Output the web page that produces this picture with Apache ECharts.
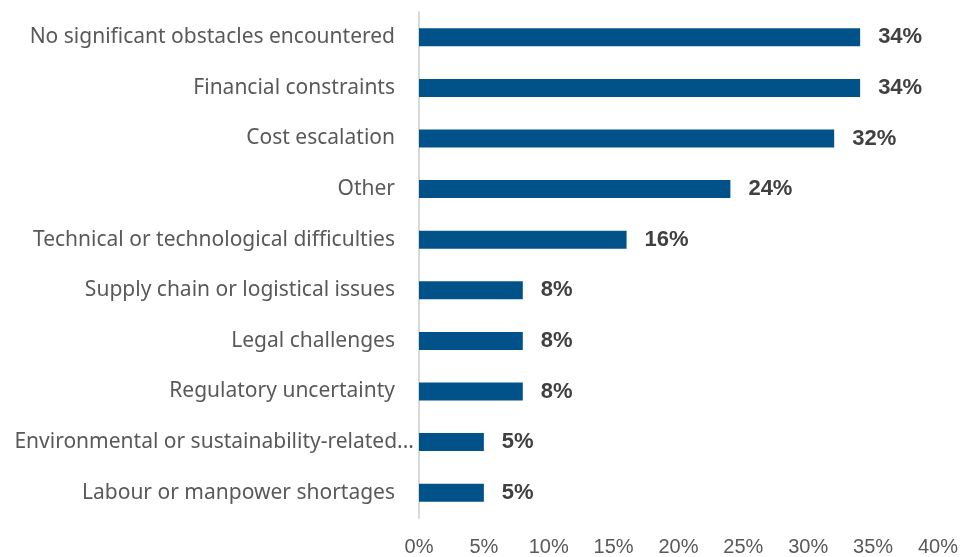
<!DOCTYPE html>
<html>
<head>
<meta charset="utf-8">
<script src="https://cdn.jsdelivr.net/npm/echarts@6/dist/echarts.min.js"></script>
<style>
  html, body { margin: 0; padding: 0; background: #ffffff; }
  #chart { width: 961px; height: 557px; }
</style>
</head>
<body>
<div id="chart"></div>
<script>
// Obstacles reported, share of respondents (%)
const categories = [
  'No significant obstacles encountered',
  'Financial constraints',
  'Cost escalation',
  'Other',
  'Technical or technological difficulties',
  'Supply chain or logistical issues',
  'Legal challenges',
  'Regulatory uncertainty',
  'Environmental or sustainability-related...',
  'Labour or manpower shortages'
];
const values = [34, 34, 32, 24, 16, 8, 8, 8, 5, 5];
const xTicks = { min: 0, max: 40, step: 5 };

// The truncated label sits closer to the axis than the others
const wideLabel = 'Environmental or sustainability-related...';

const chart = echarts.init(document.getElementById('chart'), null, { renderer: 'canvas' });

const labelFont = {
  fontFamily: 'Noto Sans',
  fontSize: 21,
  color: '#595959'
};

chart.setOption({
  animation: false,
  backgroundColor: '#ffffff',
  grid: { left: 419, right: 17, top: 12, bottom: 35, containLabel: false },
  xAxis: {
    type: 'value',
    min: xTicks.min,
    max: xTicks.max,
    interval: xTicks.step,
    axisLine: { show: false },
    axisTick: { show: false },
    splitLine: { show: false },
    axisLabel: {
      margin: 19,
      formatter: '{value}%',
      fontFamily: 'Liberation Sans',
      fontSize: 20,
      color: '#595959'
    }
  },
  yAxis: [
    {
      type: 'category',
      data: categories,
      inverse: true,
      axisLine: { show: true, lineStyle: { color: '#d9d9d9', width: 2 } },
      axisTick: { show: false },
      axisLabel: Object.assign({
        margin: 24,
        formatter: v => (v === wideLabel ? '' : v)
      }, labelFont)
    },
    {
      type: 'category',
      data: categories,
      inverse: true,
      position: 'left',
      axisLine: { show: false },
      axisTick: { show: false },
      axisLabel: Object.assign({
        margin: 5,
        formatter: v => (v === wideLabel ? v : '')
      }, labelFont)
    }
  ],
  series: [{
    type: 'bar',
    yAxisIndex: 0,
    data: values,
    barWidth: 18,
    itemStyle: { color: '#02528A' },
    label: {
      show: true,
      position: 'right',
      distance: 18,
      formatter: p => p.value + '%',
      fontFamily: 'Liberation Sans',
      fontWeight: 'bold',
      fontSize: 22,
      color: '#404040'
    }
  }]
});
</script>
</body>
</html>
